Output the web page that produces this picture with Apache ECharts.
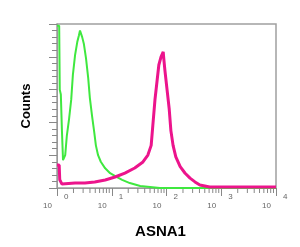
<!DOCTYPE html>
<html>
<head>
<meta charset="utf-8">
<script src="https://cdn.jsdelivr.net/npm/echarts@6/dist/echarts.min.js"></script>
<style>html,body{margin:0;padding:0;background:#fff}#c{width:300px;height:247px}</style>
</head>
<body>
<div id="c"></div>
<script>
// x values are log10 of ASNA1 intensity, y values are relative counts
var greenX = [0, 0.04, 0.05, 0.07, 0.09, 0.11, 0.15, 0.18, 0.22, 0.26, 0.29, 0.33, 0.37, 0.40, 0.42, 0.44, 0.46, 0.49, 0.53, 0.57, 0.60, 0.64, 0.68, 0.71, 0.75, 0.80, 0.88, 0.97, 1.08, 1.19, 1.33, 1.52, 1.70, 1.88, 4];
var greenY = [99, 99, 60, 57, 35, 17, 20, 32, 42, 54, 69, 81, 89, 93, 96, 95, 92, 88, 79, 67, 55, 44, 34, 26, 20, 16, 12, 9, 7, 5, 3, 1.2, 0.6, 0, 0];
var pinkX = [0, 0.04, 0.05, 0.09, 0.33, 0.51, 0.69, 0.88, 1.06, 1.24, 1.42, 1.57, 1.66, 1.72, 1.75, 1.79, 1.83, 1.86, 1.90, 1.94, 1.95, 1.97, 2.01, 2.05, 2.08, 2.12, 2.17, 2.25, 2.34, 2.43, 2.52, 2.61, 2.79, 4];
var pinkY = [14, 14, 5, 2.4, 3, 3, 3.7, 4.9, 6.7, 9.1, 12.2, 15.9, 20.1, 26, 38, 54, 66, 75, 80, 83, 79, 72, 60, 48, 35, 26, 19, 13, 9, 6, 3.7, 1.8, 0.6, 0.6];
var xMajorTicks = [0, 1, 2, 3, 4];
var xTickExponents = ['0', '1', '2', '3', '4'];
var xMinorTicks = [];
for (var d = 0; d < 4; d++) { for (var k = 2; k <= 9; k++) { xMinorTicks.push(d + Math.log10(k)); } }

function pairs(xs, ys) { return xs.map(function (x, i) { return [x, ys[i]]; }); }

var chart = echarts.init(document.getElementById('c'), null, {renderer: 'canvas'});
var labelFont = {fontFamily: 'Liberation Sans', fontSize: 8, color: '#666'};
chart.setOption({
  animation: false,
  backgroundColor: '#fff',
  grid: {left: 57, top: 24, width: 219, height: 164, show: true, borderColor: '#a0a0a0', borderWidth: 1.5, backgroundColor: 'transparent'},
  xAxis: [{
    type: 'value', min: 0, max: 4, interval: 1,
    axisLine: {show: true, lineStyle: {color: '#999', width: 1}},
    axisTick: {show: true, inside: false, length: 8, lineStyle: {color: '#888'}},
    splitLine: {show: false},
    axisLabel: Object.assign({margin: 5, align: 'left', padding: [0, 0, 0, 7], showMinLabel: true, showMaxLabel: true,
      formatter: function (v) { return xTickExponents[xMajorTicks.indexOf(Math.round(v))]; }}, labelFont),
    name: 'ASNA1', nameLocation: 'middle', nameGap: 36,
    nameTextStyle: {fontFamily: 'Liberation Sans', fontWeight: 'bold', fontSize: 15, color: '#000', padding: [0, 12, 0, 0]}
  }, {
    type: 'value', min: 0, max: 4, interval: 1, position: 'bottom',
    axisLine: {show: false}, axisTick: {show: false}, splitLine: {show: false},
    axisLabel: Object.assign({margin: 14, align: 'right', padding: [0, 5, 0, 0], showMinLabel: true, showMaxLabel: true,
      formatter: function () { return '10'; }}, labelFont)
  }],
  yAxis: {
    type: 'value', min: 0, max: 100, interval: 20,
    axisLine: {show: true, lineStyle: {color: '#999', width: 1}},
    axisTick: {show: true, inside: false, length: 8, lineStyle: {color: '#888'}},
    minorTick: {show: true, splitNumber: 5, length: 5, lineStyle: {color: '#888'}},
    splitLine: {show: false},
    axisLabel: {show: false},
    name: 'Counts', nameLocation: 'middle', nameGap: 24, nameRotate: 90,
    nameTextStyle: {fontFamily: 'Liberation Sans', fontWeight: 'bold', fontSize: 13, color: '#000'}
  },
  series: [{
    type: 'custom', xAxisIndex: 0, clip: false, silent: true,
    data: xMinorTicks,
    renderItem: function (params, api) {
      var p = api.coord([api.value(0), 0]);
      return {type: 'line', shape: {x1: p[0], y1: p[1], x2: p[0], y2: p[1] + 5}, style: {stroke: '#888', lineWidth: 1}};
    },
    encode: {x: 0}
  }, {
    type: 'line', xAxisIndex: 0, data: pairs(greenX, greenY), showSymbol: false,
    lineStyle: {color: '#3fe83f', width: 2}
  }, {
    type: 'line', xAxisIndex: 0, data: pairs(pinkX, pinkY), showSymbol: false,
    lineStyle: {color: '#ec148c', width: 3}
  }]
});
</script>
</body>
</html>
